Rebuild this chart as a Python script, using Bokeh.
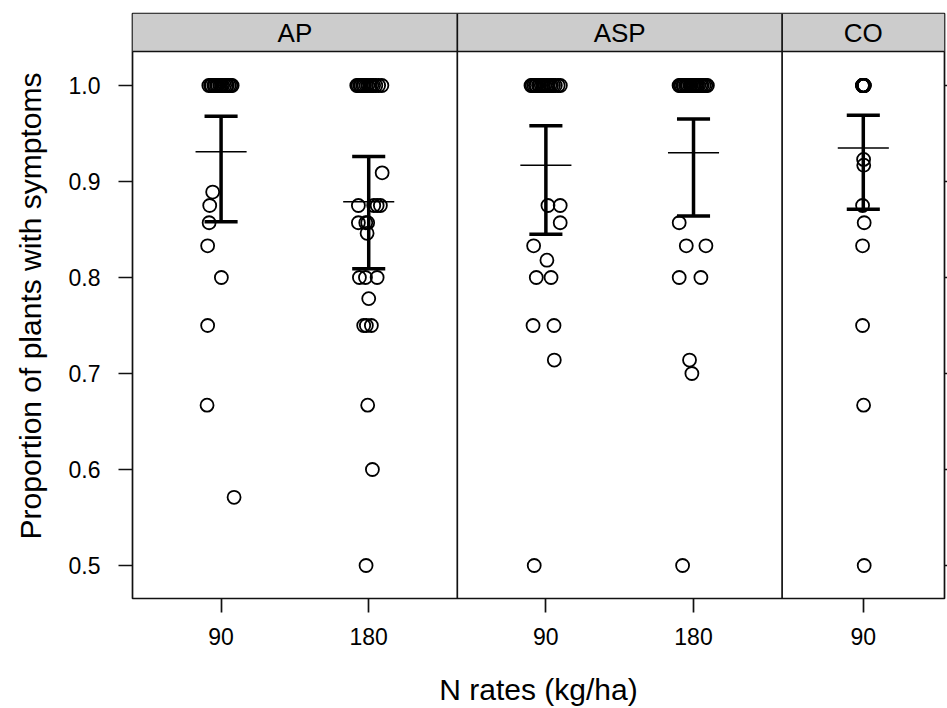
from bokeh.plotting import figure
from bokeh.models import (FixedTicker, LinearAxis, Range1d, ColumnDataSource,
                          NumeralTickFormatter, CustomJSTickFormatter)
from bokeh.core.properties import value
from bokeh.embed import file_html
from bokeh.resources import INLINE

# ---------------- data ----------------
panels = ["AP", "ASP", "CO"]
rate_labels = ["90", "180", "90", "180", "90"]
group_pos = [1.0, 2.0, 3.2, 4.2, 5.35]
y_ticks = [0.5, 0.6, 0.7, 0.8, 0.9, 1.0]

means = [0.931, 0.879, 0.917, 0.930, 0.935]
lower = [0.858, 0.809, 0.845, 0.864, 0.871]
upper = [0.968, 0.926, 0.958, 0.965, 0.969]

ap90_y = [1.0, 1.0, 1.0, 1.0, 1.0, 1.0, 1.0, 1.0, 1.0, 1.0, 1.0, 1.0, 1.0, 1.0, 1.0, 1.0,
          0.889, 0.875, 0.857, 0.833, 0.8, 0.75, 0.667, 0.571]
ap90_j = [-0.083, -0.071, -0.064, -0.049, -0.041, -0.030, -0.022, -0.009, 0.003, 0.011,
          0.024, 0.036, 0.042, 0.055, 0.066, 0.075,
          -0.057, -0.077, -0.081, -0.091, 0.002, -0.091, -0.095, 0.088]

ap180_y = [1.0, 1.0, 1.0, 1.0, 1.0, 1.0, 1.0, 1.0, 1.0, 1.0, 1.0, 1.0, 1.0, 1.0,
           0.909, 0.875, 0.875, 0.875, 0.875, 0.857, 0.857, 0.857, 0.846,
           0.8, 0.8, 0.8, 0.778, 0.75, 0.75, 0.75, 0.667, 0.6, 0.5]
ap180_j = [-0.081, -0.072, -0.060, -0.052, -0.040, -0.031, -0.018, -0.006, 0.009, 0.021,
           0.033, 0.048, 0.067, 0.089,
           0.091, -0.070, 0.034, 0.057, 0.079, -0.070, -0.020, -0.007, -0.011,
           -0.063, -0.022, 0.057, 0.0, -0.034, -0.016, 0.018, -0.007, 0.025, -0.018]

asp90_y = [1.0, 1.0, 1.0, 1.0, 1.0, 1.0, 1.0, 1.0, 1.0, 1.0, 1.0, 1.0, 1.0, 1.0, 1.0, 1.0, 1.0, 1.0,
           0.875, 0.875, 0.857, 0.833, 0.818, 0.8, 0.8, 0.75, 0.75, 0.714, 0.5]
asp90_j = [-0.101, -0.093, -0.082, -0.071, -0.064, -0.050, -0.043, -0.031, -0.020, -0.008,
           0.005, 0.013, 0.027, 0.038, 0.051, 0.064, 0.083, 0.098,
           0.014, 0.097, 0.097, -0.083, 0.007, -0.065, 0.035, -0.087, 0.055, 0.057, -0.079]

asp180_y = [1.0, 1.0, 1.0, 1.0, 1.0, 1.0, 1.0, 1.0, 1.0, 1.0, 1.0, 1.0, 1.0, 1.0, 1.0, 1.0, 1.0, 1.0, 1.0, 1.0,
            0.857, 0.833, 0.833, 0.8, 0.8, 0.714, 0.7, 0.5]
asp180_j = [-0.098, -0.090, -0.083, -0.072, -0.066, -0.054, -0.045, -0.037, -0.025, -0.017,
            -0.004, 0.006, 0.018, 0.027, 0.036, 0.049, 0.058, 0.071, 0.083, 0.094,
            -0.097, -0.049, 0.084, -0.097, 0.050, -0.027, -0.011, -0.074]

co90_y = [1.0, 1.0, 1.0, 1.0, 1.0, 1.0, 1.0, 1.0, 1.0, 1.0, 1.0, 1.0, 1.0, 1.0, 1.0, 1.0, 1.0, 1.0,
          0.923, 0.917, 0.875, 0.857, 0.833, 0.75, 0.667, 0.5]
co90_j = [-0.006, -0.005, -0.004, -0.003, -0.002, -0.002, -0.001, 0.0, 0.0, 0.001,
          0.001, 0.002, 0.003, 0.003, 0.004, 0.005, 0.006, 0.007,
          0.002, 0.003, -0.005, 0.006, -0.005, -0.005, 0.002, 0.006]

obs_y = [ap90_y, ap180_y, asp90_y, asp180_y, co90_y]
obs_j = [ap90_j, ap180_j, asp90_j, asp180_j, co90_j]

# ---------------- layout constants ----------------
panel_edges = [0.4, 2.6, 4.8, 5.9]
y_lo, strip_lo, strip_hi = 0.4656, 1.0354, 1.075
FONT = "Liberation Sans"
CAP = 0.112
MEANW = 0.173

p = figure(frame_width=812, frame_height=585,
           x_range=Range1d(panel_edges[0], panel_edges[-1]),
           y_range=Range1d(y_lo, strip_hi),
           output_backend="svg", toolbar_location=None,
           min_border_left=132, min_border_top=13, min_border_right=3,
           min_border_bottom=110)
p.grid.visible = False
p.outline_line_color = "#111111"
p.outline_line_width = 1.7
p.background_fill_color = "white"
p.border_fill_color = "white"

# strip
p.quad(left=panel_edges[0], right=panel_edges[-1], bottom=strip_lo, top=strip_hi,
       fill_color="#cccccc", line_color=None)
p.segment(x0=[panel_edges[0]], y0=[strip_lo], x1=[panel_edges[-1]], y1=[strip_lo],
          line_color="#111111", line_width=1.7)
p.segment(x0=panel_edges[1:-1], y0=[y_lo] * 2, x1=panel_edges[1:-1], y1=[strip_hi] * 2,
          line_color="#111111", line_width=1.7)
centers = [(panel_edges[i] + panel_edges[i + 1]) / 2 for i in range(3)]
p.text(x=centers, y=[(strip_lo + strip_hi) / 2] * 3, text=panels,
       text_font=value(FONT), text_font_size="26px", text_align="center",
       text_baseline="middle", text_color="black")

# points
xs, ys = [], []
for gp, yy, jj in zip(group_pos, obs_y, obs_j):
    for v, j in zip(yy, jj):
        xs.append(gp + j)
        ys.append(v)
p.scatter(xs, ys, marker="circle", size=13, fill_color=None,
          line_color="black", line_width=1.8)

# error bars
src = ColumnDataSource(dict(
    x=group_pos, m=means, lo=lower, hi=upper,
    cl=[g - CAP for g in group_pos], cr=[g + CAP for g in group_pos],
    ml=[g - MEANW for g in group_pos], mr=[g + MEANW for g in group_pos]))
p.segment(x0="x", y0="lo", x1="x", y1="hi", source=src, line_color="black", line_width=3.5)
p.segment(x0="cl", y0="hi", x1="cr", y1="hi", source=src, line_color="black", line_width=3.5)
p.segment(x0="cl", y0="lo", x1="cr", y1="lo", source=src, line_color="black", line_width=3.5)
p.segment(x0="ml", y0="m", x1="mr", y1="m", source=src, line_color="black", line_width=1.5)

# axes
xa = p.xaxis[0]
xa.ticker = FixedTicker(ticks=group_pos)
xa.formatter = CustomJSTickFormatter(args=dict(pos=group_pos, labs=rate_labels), code="""
let best = 0;
for (let i = 0; i < pos.length; i++) {
  if (Math.abs(pos[i] - tick) < Math.abs(pos[best] - tick)) best = i;
}
return labs[best];
""")
xa.axis_label = "N rates (kg/ha)"
ya = p.yaxis[0]
ya.ticker = FixedTicker(ticks=y_ticks)
ya.formatter = NumeralTickFormatter(format="0.0")
ya.axis_label = "Proportion of plants with symptoms"

for ax in (xa, ya):
    ax.axis_line_color = None
    ax.major_tick_out = 14
    ax.major_tick_in = 0
    ax.minor_tick_out = 0
    ax.minor_tick_in = 0
    ax.major_tick_line_width = 1.7
    ax.major_tick_line_color = "#111111"
    ax.major_label_text_font = FONT
    ax.major_label_text_font_size = "23px"
    ax.major_label_text_color = "black"
    ax.axis_label_text_font = FONT
    ax.axis_label_text_font_size = "30px"
    ax.axis_label_text_font_style = "normal"
    ax.axis_label_text_color = "black"
xa.major_label_standoff = 15
ya.major_label_standoff = 18
xa.axis_label_standoff = 25
ya.axis_label_standoff = 19

ra = LinearAxis(ticker=FixedTicker(ticks=y_ticks), axis_line_color=None,
                major_tick_out=3, major_tick_in=0, minor_tick_out=0, minor_tick_in=0,
                major_tick_line_width=1.7, major_tick_line_color="#111111",
                major_label_standoff=0,
                formatter=CustomJSTickFormatter(code="return '';"))
p.add_layout(ra, "right")

open("out.html", "w").write(file_html(p, INLINE))
